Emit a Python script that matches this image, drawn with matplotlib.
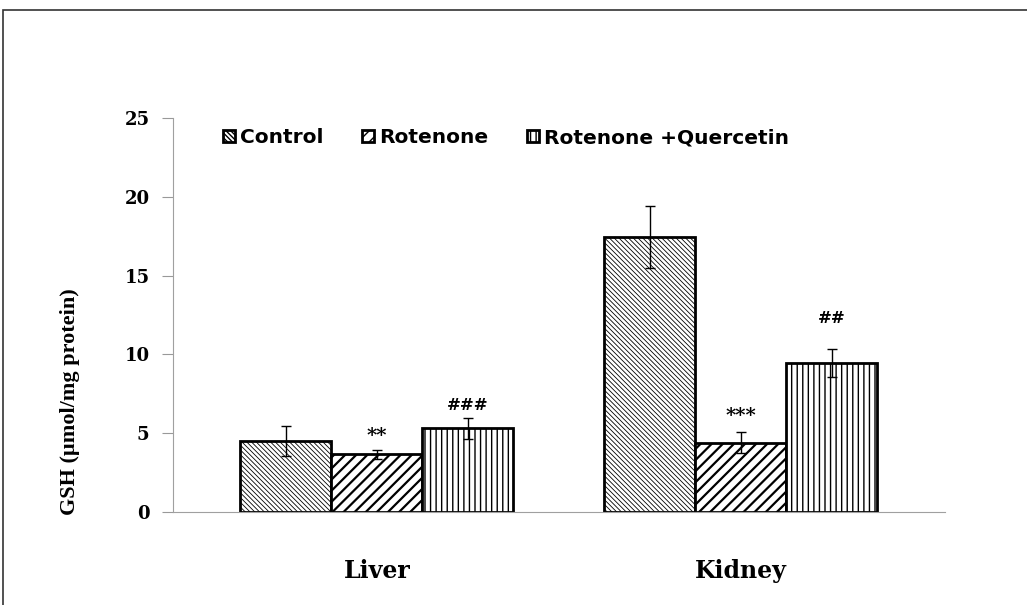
import numpy as np
import matplotlib
matplotlib.use("Agg")
import matplotlib.pyplot as plt
from matplotlib.patches import Rectangle

# data
organs = ["Liver", "Kidney"]
groups = ["Control", "Rotenone", "Rotenone +Quercetin"]
gsh = [[4.5, 3.65, 5.3],
       [17.45, 4.4, 9.45]]
gsh_err = [[0.95, 0.3, 0.65],
           [1.95, 0.65, 0.9]]
sig_marks = [["", "**", "###"],
             ["", "***", "##"]]
sig_base = [[0, 4.5, 6.5],
            [0, 5.8, 12.0]]

bs = chr(92)
hatches = [bs * 7, "///", "|||"]
hatch_lw = [0.6, 1.6, 1.0]
serif = ["DejaVu Serif"]

fig = plt.figure(figsize=(10.27, 6.05), dpi=100)
ax = fig.add_axes([0.1685, 0.1537, 0.7515, 0.6513])

x = np.arange(len(organs))
w = 0.25
for i, g in enumerate(groups):
    vals = [row[i] for row in gsh]
    errs = [row[i] for row in gsh_err]
    pos = x + (i - 1) * w
    plt.rcParams["hatch.linewidth"] = hatch_lw[i]
    bars = ax.bar(pos, vals, width=w, color="white", edgecolor="black", linewidth=2,
                  hatch=hatches[i], label=g, zorder=2)
    for b in bars:
        if hasattr(b, "set_hatch_linewidth"):
            b.set_hatch_linewidth(hatch_lw[i])
    ax.errorbar(pos, vals, yerr=errs, fmt="none", ecolor="black", elinewidth=1,
                capsize=3.8, capthick=1, zorder=3)
    for k in range(len(organs)):
        if sig_marks[k][i]:
            fs = 14 if "*" in sig_marks[k][i] else 12
            ax.text(pos[k], sig_base[k][i], sig_marks[k][i], ha="center", va="baseline",
                    fontsize=fs, fontweight="bold", family=serif)

ax.set_xlim(-0.56, 1.56)
ax.set_ylim(0, 25)
ax.set_yticks(range(0, 26, 5))
ax.set_xticks(x)
ax.set_xticklabels(organs, fontsize=17, fontweight="bold", family=serif)
ax.tick_params(axis="x", length=0, pad=34)
ax.tick_params(axis="y", length=8, color="#999999", pad=9)
for lab in ax.get_yticklabels():
    lab.set_fontweight("bold")
    lab.set_family(serif)
    lab.set_fontsize(13)
for s in ["top", "right"]:
    ax.spines[s].set_visible(False)
ax.spines["left"].set_color("#a0a0a0")
ax.spines["bottom"].set_color("#a0a0a0")

ax.set_ylabel("GSH (\u00b5mol/mg protein)", fontsize=16, fontweight="bold",
              family=["Liberation Serif", "DejaVu Serif"])
ax.yaxis.set_label_coords(-0.12, 0.28)

ax.legend(loc="center left", bbox_to_anchor=(0.065, 0.95), ncol=3, frameon=False,
          borderpad=0, borderaxespad=0,
          handlelength=0.6, handleheight=0.6, handletextpad=0.25,
          columnspacing=1.9, prop={"family": "DejaVu Sans", "weight": "bold", "size": 14.5})

# outer frame of the picture
fig.patches.append(Rectangle((3 / 1027, -0.1), 1.1, 1.1 - 10 / 605,
                             transform=fig.transFigure, fill=False,
                             edgecolor="#333333", linewidth=1.2))

fig.savefig("out.png", dpi=100)
